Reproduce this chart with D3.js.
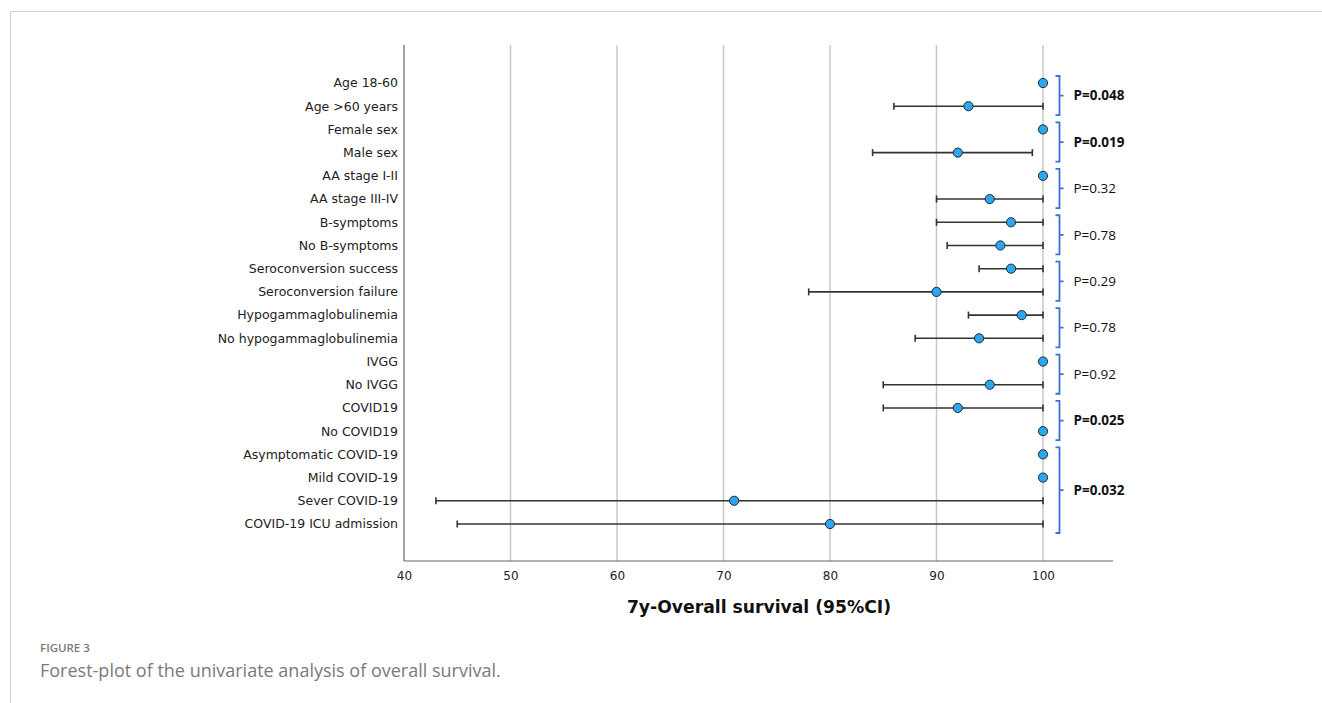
<!DOCTYPE html>
<html>
<head>
<meta charset="utf-8">
<script src="https://d3js.org/d3.v7.min.js"></script>
<style>
  body { margin: 0; background: #fff; }
  svg { display: block; }
  .lab { font-family: "DejaVu Sans", sans-serif; font-size: 12.5px; fill: #222; }
  .tick text { font-family: "DejaVu Sans", sans-serif; font-size: 12px; fill: #222; }
  .ptxt { font-family: "Open Sans", "DejaVu Sans", sans-serif; font-size: 13.5px; fill: #111; }
</style>
</head>
<body>
<svg></svg>
<script>
// data
const categories = ["Age 18-60", "Age >60 years", "Female sex", "Male sex", "AA stage I-II",
  "AA stage III-IV", "B-symptoms", "No B-symptoms", "Seroconversion success",
  "Seroconversion failure", "Hypogammaglobulinemia", "No hypogammaglobulinemia",
  "IVGG", "No IVGG", "COVID19", "No COVID19", "Asymptomatic COVID-19",
  "Mild COVID-19", "Sever COVID-19", "COVID-19 ICU admission"];
const estimate = [100, 93, 100, 92, 100, 95, 97, 96, 97, 90, 98, 94, 100, 95, 92, 100, 100, 100, 71, 80];
const lower    = [null, 86, null, 84, null, 90, 90, 91, 94, 78, 93, 88, null, 85, 85, null, null, null, 43, 45];
const upper    = [null, 100, null, 99, null, 100, 100, 100, 100, 100, 100, 100, null, 100, 100, null, null, null, 100, 100];
// groups of rows compared, first and last row index
const groupStart = [0, 2, 4, 6, 8, 10, 12, 14, 16];
const groupEnd   = [1, 3, 5, 7, 9, 11, 13, 15, 19];
const pValues    = ["P=0.048", "P=0.019", "P=0.32", "P=0.78", "P=0.29", "P=0.78", "P=0.92", "P=0.025", "P=0.032"];
const pBold      = [true, true, false, false, false, false, false, true, true];
const xTicks = [40, 50, 60, 70, 80, 90, 100];

const W = 1322, H = 703;
const svg = d3.select("svg").attr("width", W).attr("height", H);

// page frame
svg.append("path")
  .attr("d", `M${W},11.5H10.5V${H}`)
  .attr("fill", "none").attr("stroke", "#d0d0d0").attr("stroke-width", 1);

const x = d3.scaleLinear().domain([40, 100]).range([404, 1043]);
const xMax = 106.6;
const y = d3.scalePoint().domain(d3.range(categories.length)).range([83, 524]);
const plotTop = 45, plotBottom = 561;

// grid lines
svg.append("g").selectAll("line")
  .data(xTicks.slice(1))
  .join("line")
  .attr("x1", d => x(d)).attr("x2", d => x(d))
  .attr("y1", plotTop).attr("y2", plotBottom)
  .attr("stroke", "#c8c8c8").attr("stroke-width", 1.5);

// axes
const xAxis = svg.append("g")
  .attr("transform", `translate(0,${plotBottom})`)
  .call(d3.axisBottom(x).tickValues(xTicks).tickSize(0).tickPadding(10));
xAxis.select(".domain").remove();
xAxis.append("line")
  .attr("x1", x(40)).attr("x2", x(xMax))
  .attr("stroke", "#666").attr("stroke-width", 1.2);

svg.append("line")
  .attr("x1", x(40)).attr("x2", x(40))
  .attr("y1", plotTop).attr("y2", plotBottom)
  .attr("stroke", "#666").attr("stroke-width", 1.2);

// row labels
svg.append("g").selectAll("text")
  .data(categories)
  .join("text")
  .attr("class", "lab")
  .attr("x", x(40) - 6)
  .attr("y", (d, i) => y(i))
  .attr("dy", "0.35em")
  .attr("text-anchor", "end")
  .text(d => d);

// axis title
svg.append("text")
  .attr("x", 759).attr("y", 613)
  .attr("text-anchor", "middle")
  .style("font-family", "DejaVu Sans, sans-serif")
  .style("font-size", "17.2px")
  .style("font-weight", "bold")
  .attr("fill", "#111")
  .text("7y-Overall survival (95%CI)");

// error bars
const rows = categories.map((c, i) => ({ i, est: estimate[i], lo: lower[i], hi: upper[i] }));
const ci = rows.filter(d => d.lo !== null);
const eb = svg.append("g").attr("stroke", "#333").attr("stroke-width", 1.6);
eb.selectAll("line.bar")
  .data(ci).join("line").attr("class", "bar")
  .attr("x1", d => x(d.lo)).attr("x2", d => x(d.hi))
  .attr("y1", d => y(d.i)).attr("y2", d => y(d.i));
eb.selectAll("line.capl")
  .data(ci).join("line").attr("class", "capl")
  .attr("x1", d => x(d.lo)).attr("x2", d => x(d.lo))
  .attr("y1", d => y(d.i) - 3.5).attr("y2", d => y(d.i) + 3.5);
eb.selectAll("line.caph")
  .data(ci).join("line").attr("class", "caph")
  .attr("x1", d => x(d.hi)).attr("x2", d => x(d.hi))
  .attr("y1", d => y(d.i) - 3.5).attr("y2", d => y(d.i) + 3.5);

// points
svg.append("g").selectAll("circle")
  .data(rows).join("circle")
  .attr("cx", d => x(d.est)).attr("cy", d => y(d.i))
  .attr("r", 4.6)
  .attr("fill", "#2ea6ee").attr("stroke", "#1d2b36").attr("stroke-width", 1);

// brackets and p-values
const bx = 1059.5;
const groups = groupStart.map((s, k) => ({ y0: y(s) - 7, y1: y(groupEnd[k]) + 9, p: pValues[k], bold: pBold[k] }));
const br = svg.append("g");
br.selectAll("path")
  .data(groups).join("path")
  .attr("d", d => {
    const m = (d.y0 + d.y1) / 2;
    return `M${bx - 4},${d.y0}H${bx}V${d.y1}H${bx - 4}M${bx},${m}H${bx + 4}`;
  })
  .attr("fill", "none").attr("stroke", "#3a6fd6").attr("stroke-width", 1.8);
br.selectAll("text")
  .data(groups).join("text")
  .attr("class", "ptxt")
  .attr("x", bx + 14)
  .attr("y", d => (d.y0 + d.y1) / 2)
  .attr("dy", "0.35em")
  .style("font-weight", d => d.bold ? "bold" : "normal")
  .text(d => d.p);

// caption
svg.append("text")
  .attr("x", 40).attr("y", 652)
  .style("font-family", "Open Sans, sans-serif")
  .style("font-size", "11.5px")
  .style("font-weight", 600)
  .attr("fill", "#7a7a7a")
  .text("FIGURE 3");
svg.append("text")
  .attr("x", 40).attr("y", 677)
  .style("font-family", "Open Sans, sans-serif")
  .style("font-size", "18px")
  .style("font-weight", 400)
  .attr("fill", "#7a7a7a")
  .text("Forest-plot of the univariate analysis of overall survival.");
</script>
</body>
</html>
